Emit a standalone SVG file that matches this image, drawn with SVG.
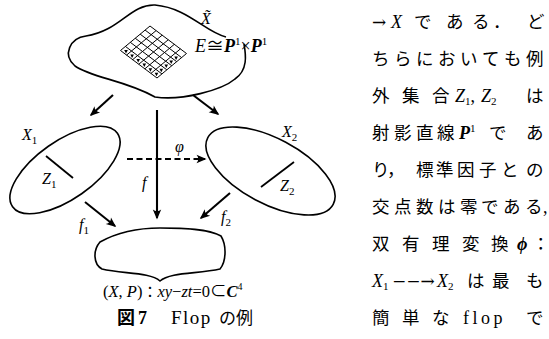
<svg xmlns="http://www.w3.org/2000/svg" width="549" height="339" viewBox="0 0 549 339">
<defs>
<style>
.sh{fill:none;stroke:#000;stroke-width:1.6;}
.gr{fill:none;stroke:#000;stroke-width:1;}
.ar{fill:none;stroke:#000;stroke-width:2.1;marker-end:url(#ah);}
.da{fill:none;stroke:#000;stroke-width:2;stroke-dasharray:6 3.5;marker-end:url(#ah);}
.zl{fill:none;stroke:#000;stroke-width:1.8;}
text{font-family:"Liberation Serif","Noto Sans CJK JP",serif;fill:#000;}
.m{font-style:italic;font-size:16px;}
.sub{font-style:normal;font-size:11px;}
.b{font-weight:bold;font-style:italic;}
.jp{font-family:"Noto Sans CJK JP","Liberation Serif",sans-serif;font-size:17.5px;}
.rt{font-size:18px;}
.dv{font-family:"DejaVu Serif",serif;}
</style>
<marker id="ah" viewBox="-9 -5 11 10" refX="0" refY="0" markerWidth="11" markerHeight="10" markerUnits="userSpaceOnUse" orient="auto">
<path d="M1.5,0 L-8.5,-4.2 Q-5,0 -8.5,4.2 Z" fill="#000"/>
</marker>
<path id="tri" d="M-1.8,-1.6 L1.8,-1.6 L0,1.9 Z" fill="#000"/>
</defs>

<g id="node-Xtilde">
<path class="sh" d="M226,37 C205,32 188,8 155,5 C130,4 120,31 86,36 C70,38 62,55 75,66 C92,78 125,80 155,97 C182,101 222,90 235,79 C248,70 246,55 244,44"/>
<g id="grid">
<path class="gr" d="M150,26 L120.5,50.5 M156.08,30.58 L126.58,55.08 M162.17,35.17 L132.67,59.67 M168.25,39.75 L138.75,64.25 M174.33,44.33 L144.83,68.83 M180.42,48.92 L150.92,73.42 M186.5,53.5 L157,78 M150,26 L186.5,53.5 M145.08,30.08 L181.58,57.58 M140.17,34.17 L176.67,61.67 M135.25,38.25 L171.75,65.75 M130.33,42.33 L166.83,69.83 M125.42,46.42 L161.92,73.92 M120.5,50.5 L157,78"/>
<use href="#tri" x="126" y="51.5"/>
<use href="#tri" x="132.1" y="56"/>
<use href="#tri" x="138.2" y="60.6"/>
<use href="#tri" x="144.3" y="65.2"/>
<use href="#tri" x="150.4" y="69.8"/>
<use href="#tri" x="156.5" y="74.4"/>
<use href="#tri" x="176.1" y="58"/>
<use href="#tri" x="171.2" y="62.1"/>
<use href="#tri" x="166.25" y="66.2"/>
<use href="#tri" x="161.3" y="70.3"/>
</g>
<text class="m" x="201" y="24">X̃</text>
<text x="195" y="52" style="font-size:18px"><tspan font-style="italic">E</tspan><tspan>≅</tspan><tspan class="b">P</tspan><tspan font-size="11" dy="-7">1</tspan><tspan dy="7">×</tspan><tspan class="b">P</tspan><tspan font-size="11" dy="-7">1</tspan></text>
</g>

<g id="node-X1">
<ellipse class="sh" cx="65" cy="170" rx="64" ry="29" transform="rotate(-35 65 170)"/>
<line class="zl" x1="46" y1="156" x2="73" y2="178"/>
<text class="m" x="22" y="140">X<tspan class="sub" dy="4">1</tspan></text>
<text class="m" x="42" y="184">Z<tspan class="sub" dy="4">1</tspan></text>
</g>

<g id="node-X2">
<ellipse class="sh" cx="270.5" cy="171" rx="71" ry="32.5" transform="rotate(28 270.5 171)"/>
<line class="zl" x1="294" y1="162" x2="261" y2="187"/>
<text class="m" x="282" y="137">X<tspan class="sub" dy="4">2</tspan></text>
<text class="m" x="280" y="191">Z<tspan class="sub" dy="4">2</tspan></text>
</g>

<g id="node-X">
<path class="sh" d="M160,281 C150,272 122,274 102,269 C93,264 93,250 100,242 C118,232 140,228 160,228 C185,228 208,229 221,236 C227,246 226,262 220,269 C198,274 170,272 160,281 Z"/>
<text x="103" y="297" style="font-size:16.5px">(<tspan font-style="italic">X</tspan>, <tspan font-style="italic">P</tspan>)<tspan font-family="Noto Sans CJK JP" font-size="15">：</tspan><tspan font-style="italic">xy</tspan>−<tspan font-style="italic">zt</tspan>=0⊂<tspan class="b">C</tspan><tspan font-size="10" dy="-7">4</tspan></text>
</g>

<g id="connectors">
<line class="ar" x1="113" y1="95" x2="91" y2="115"/>
<line class="ar" x1="193" y1="95" x2="218" y2="114"/>
<line class="ar" x1="157" y1="110" x2="157" y2="218"/>
<line class="ar" x1="85" y1="202" x2="115" y2="226"/>
<line class="ar" x1="230" y1="193" x2="201" y2="218"/>
<line class="da" x1="127" y1="159" x2="205" y2="159"/>
<text class="m" x="175" y="152">φ</text>
<text class="m" x="142" y="188">f</text>
<text class="m" x="79" y="230">f<tspan class="sub" dy="4">1</tspan></text>
<text class="m" x="221" y="222">f<tspan class="sub" dy="4">2</tspan></text>
</g>

<g id="caption">
<text x="117" y="324" style="font-size:18px"><tspan font-family="Noto Sans CJK JP" font-weight="bold">図</tspan><tspan x="138" font-weight="bold">7</tspan><tspan x="171" font-size="19" letter-spacing="1.5">Flop</tspan><tspan x="219" font-family="Noto Sans CJK JP" font-size="17">の例</tspan></text>
</g>

<g id="body-text" class="rt">
<text y="27.5"><tspan x="372" class="dv" font-size="17">→</tspan><tspan x="391" font-style="italic">X</tspan><tspan class="jp" x="414 446 472 493 527">である．ど</tspan></text>
<text class="jp" y="64.5" x="372 394 416 438 460 482 504 526">ちらにおいても例</text>
<text y="101.5"><tspan class="jp" x="372 402 432">外集合</tspan><tspan x="455" font-style="italic">Z</tspan><tspan font-size="11" dy="3">1</tspan><tspan dy="-3">,</tspan><tspan x="481" font-style="italic">Z</tspan><tspan font-size="11" dy="3">2</tspan><tspan class="jp" x="526" dy="-3">は</tspan></text>
<text y="138.5"><tspan class="jp" x="372 394 416 437">射影直線</tspan><tspan x="459" class="b">P</tspan><tspan font-size="11" dy="-7">1</tspan><tspan class="jp" x="489 526" dy="7">であ</tspan></text>
<text class="jp" y="175.5" x="372 387 416 436 457 479 501 526">り，標準因子との</text>
<text y="212.5"><tspan class="jp" x="372 394 416 438 460 481 503 525">交点数は零である</tspan><tspan x="543">,</tspan></text>
<text y="249.5"><tspan class="jp" x="372 402 432 462 491">双有理変換</tspan><tspan x="517" class="b">ϕ</tspan><tspan class="jp" x="532">：</tspan></text>
<text y="286.5"><tspan x="372" font-style="italic">X</tspan><tspan font-size="11" dy="3">1</tspan><tspan x="392" dy="-3" class="dv" font-size="17">−−→</tspan><tspan x="437" font-style="italic">X</tspan><tspan font-size="11" dy="3">2</tspan><tspan class="jp" x="467 492 526" dy="-3">は最も</tspan></text>
<text y="323.5"><tspan class="jp" x="372 402 432">簡単な</tspan><tspan x="463" letter-spacing="3.5">flop</tspan><tspan class="jp" x="526">で</tspan></text>
</g>
</svg>
